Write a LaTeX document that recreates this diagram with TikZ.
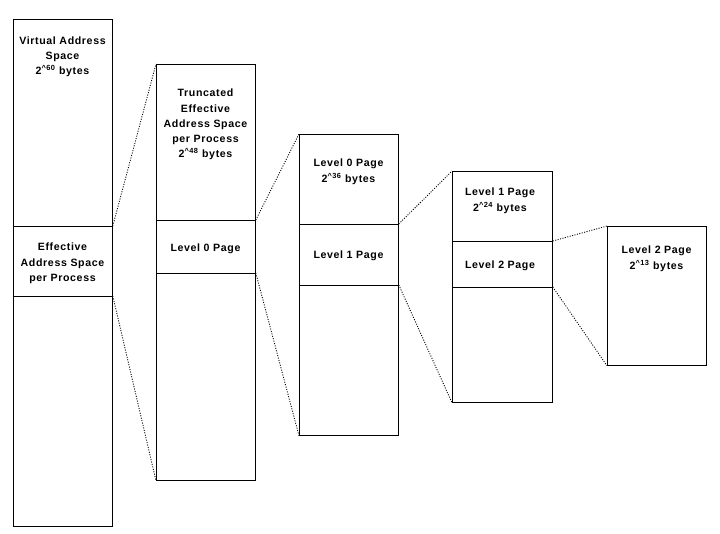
\documentclass[tikz,border=0pt]{standalone}
\usepackage{fontspec}
\setmainfont{Liberation Sans}[LetterSpace=6]
\tikzset{
  sec/.style={draw=black, line width=0.8pt, anchor=north west, inner sep=0pt, minimum width=#1},
  sec/.default=99pt,
  lbl/.style={anchor=north, inner sep=0pt, align=center, font=\bfseries\fontsize{10.6}{15.2}\selectfont},
  link/.style={line width=0.9pt, dash pattern=on 1pt off 1.5pt}
}
\newcommand{\pw}[1]{2\textsuperscript{\textasciicircum#1} bytes}
\begin{document}
\begin{tikzpicture}[x=1pt,y=-1pt]
\useasboundingbox (0,0) rectangle (720,534);
% column 1
\node[sec, minimum height=207pt] (a1) at (13,19) {};
\node[sec, minimum height=70pt] (a2) at (13,226) {};
\node[sec, minimum height=230pt] (a3) at (13,296) {};
% column 2
\node[sec, minimum height=156pt] (b1) at (156,64) {};
\node[sec, minimum height=53pt] (b2) at (156,220) {};
\node[sec, minimum height=207pt] (b3) at (156,273) {};
% column 3
\node[sec, minimum height=90pt] (c1) at (299,134) {};
\node[sec, minimum height=61pt] (c2) at (299,224) {};
\node[sec, minimum height=150pt] (c3) at (299,285) {};
% column 4
\node[sec=100pt, minimum height=70pt] (d1) at (452,171) {};
\node[sec=100pt, minimum height=46pt] (d2) at (452,241) {};
\node[sec=100pt, minimum height=115pt] (d3) at (452,287) {};
% column 5
\node[sec, minimum height=139pt] (e1) at (607,226) {};
% labels
\node[lbl] (ta1) at (62.5,36.5) {Virtual Address\\Space\\\pw{60}};
\node[lbl] (ta2) at (62.5,243) {Effective\\Address Space\\per Process};
\node[lbl] (tb1) at (205.5,89) {Truncated\\Effective\\Address Space\\per Process\\\pw{48}};
\node[lbl] (tb2) at (205.5,244) {Level 0 Page};
\node[lbl] (tc1) at (348.5,159) {Level 0 Page\\\pw{36}};
\node[lbl] (tc2) at (348.5,251) {Level 1 Page};
\node[lbl] (td1) at (500,188) {Level 1 Page\\\pw{24}};
\node[lbl] (td2) at (500,261) {Level 2 Page};
\node[lbl] (te1) at (656.5,246) {Level 2 Page\\\pw{13}};
% connectors
\draw[link] (a2.north east) -- (b1.north west);
\draw[link] (a3.north east) -- (b3.south west);
\draw[link] (b2.north east) -- (c1.north west);
\draw[link] (b3.north east) -- (c3.south west);
\draw[link] (c2.north east) -- (d1.north west);
\draw[link] (c3.north east) -- (d3.south west);
\draw[link] (d2.north east) -- (e1.north west);
\draw[link] (d3.north east) -- (e1.south west);
\end{tikzpicture}
\end{document}
